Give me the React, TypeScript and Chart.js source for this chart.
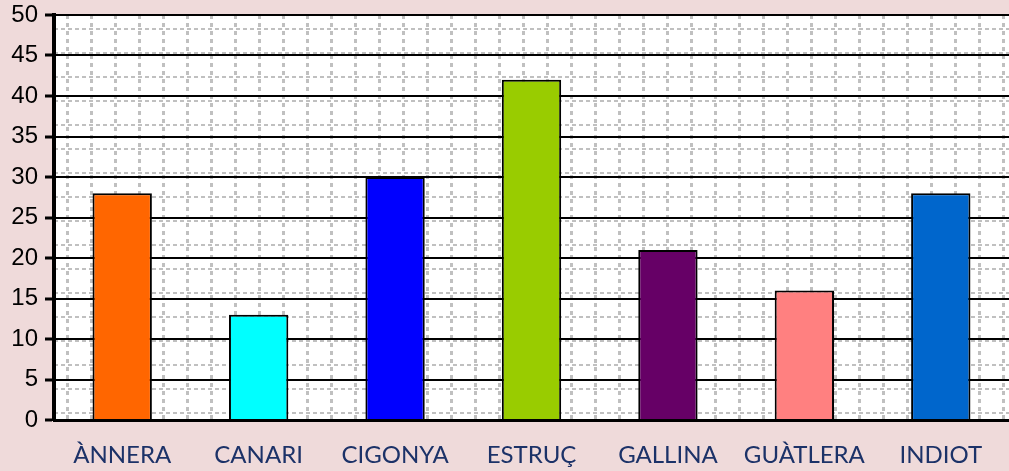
import React, { useEffect, useRef } from "react";
import { Chart, registerables } from "chart.js";

Chart.register(...registerables);

const categories = ["ÀNNERA", "CANARI", "CIGONYA", "ESTRUÇ", "GALLINA", "GUÀTLERA", "INDIOT"];
const values = [28, 13, 30, 42, 21, 16, 28];
const barColors = ["#ff6600", "#00ffff", "#0000ff", "#99cc00", "#660066", "#ff8080", "#0066cc"];
const yMin = 0;
const yMax = 50;
const yStep = 5;

const paperPlugin = {
  id: "paper",
  beforeDraw(chart: any) {
    const { ctx, chartArea } = chart;
    const { left, top, right, bottom } = chartArea;
    ctx.save();
    ctx.fillStyle = "#ffffff";
    ctx.fillRect(left, top, right - left, bottom - top);
    ctx.strokeStyle = "#c0c0c0";
    ctx.lineWidth = 3;
    ctx.setLineDash([4, 4]);
    for (let x = Math.round(left + 13) + 0.5; x < right; x += 24) {
      ctx.beginPath();
      ctx.moveTo(x, top);
      ctx.lineTo(x, bottom);
      ctx.stroke();
    }
    ctx.lineWidth = 2;
    ctx.setLineDash([4, 3]);
    for (let y = Math.round(bottom - 7); y > top; y -= 24) {
      ctx.beginPath();
      ctx.moveTo(left, y);
      ctx.lineTo(right, y);
      ctx.stroke();
    }
    ctx.restore();
  },
};

export default function App() {
  const ref = useRef<HTMLCanvasElement | null>(null);
  useEffect(() => {
    if (!ref.current) return;
    const chart = new Chart(ref.current, {
      type: "bar",
      data: {
        labels: categories,
        datasets: [
          {
            data: values,
            backgroundColor: barColors,
            borderColor: "#000000",
            borderWidth: 2,
            barPercentage: 0.435,
            categoryPercentage: 1,
          },
        ],
      },
      options: {
        animation: false,
        responsive: false,
        layout: { padding: { top: 15, right: 0, bottom: 0, left: 0 } },
        plugins: { legend: { display: false }, tooltip: { enabled: false } },
        scales: {
          x: {
            grid: { display: false, drawTicks: false },
            border: { display: true, color: "#000000", width: 3 },
            ticks: {
              color: "#1c3268",
              font: { family: "Lato", size: 24 },
              padding: 21,
              maxRotation: 0,
              autoSkip: false,
            },
            afterFit(scale: any) {
              scale.height = 51;
              scale.paddingLeft = 0;
              scale.paddingRight = 0;
            },
          },
          y: {
            min: yMin,
            max: yMax,
            grid: {
              color: "#000000",
              lineWidth: 2,
              tickColor: "#000000",
              tickLength: 9,
              tickWidth: 3,
            },
            border: { display: true, color: "#000000", width: 4 },
            ticks: {
              stepSize: yStep,
              color: "#000000",
              font: { family: "Liberation Sans", size: 24 },
              padding: 7,
            },
            afterFit(scale: any) {
              scale.width = 54;
              scale.paddingTop = 0;
              scale.paddingBottom = 0;
            },
          },
        },
      },
      plugins: [paperPlugin],
    });
    return () => chart.destroy();
  }, []);
  return (
    <div style={{ position: "fixed", left: 0, top: 0, width: 1009, height: 471, background: "#efdada" }}>
      <canvas ref={ref} width={1009} height={471} style={{ display: "block" }} />
    </div>
  );
}
